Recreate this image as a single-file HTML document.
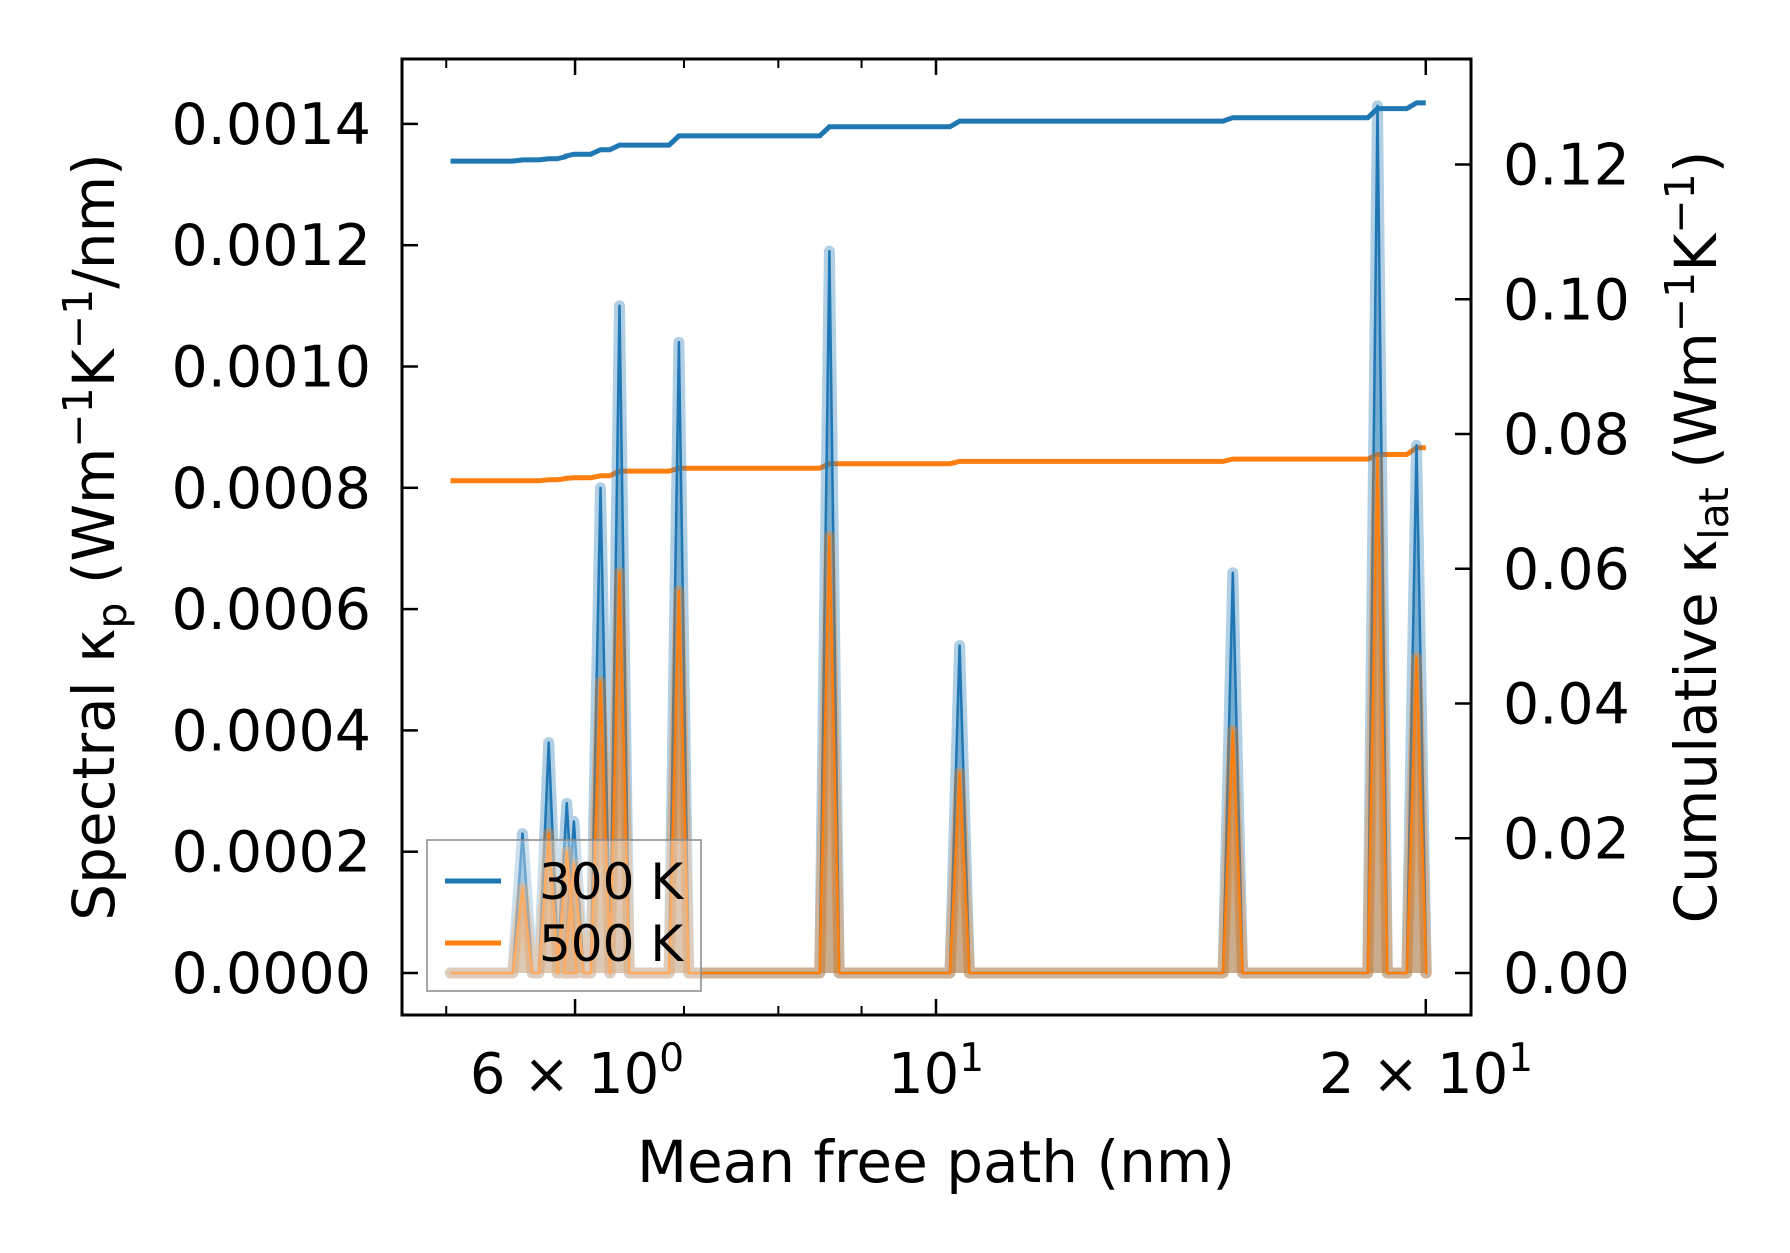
<!DOCTYPE html>
<html><head><meta charset="utf-8"><style>
html,body{margin:0;padding:0;background:#fff}
svg{display:block;font-family:"DejaVu Sans","Liberation Sans",sans-serif}
</style></head><body>
<svg id="chart" width="1790" height="1253" viewBox="0 0 1790 1253" xmlns="http://www.w3.org/2000/svg">
<g id="plot"></g>
<g id="axes"></g>
</svg>
<script>
// ---- data ----
const peakMfp = [5.57, 5.78, 5.93, 5.99, 6.22, 6.39, 6.95, 8.60, 10.34, 15.22, 18.68, 19.74];
const peak300 = [0.00023, 0.00038, 0.00028, 0.00025, 0.00080, 0.00110, 0.00104, 0.00119, 0.00054, 0.00066, 0.00143, 0.00087];
const peak500 = [0.00014, 0.00023, 0.00020, 0.00018, 0.00048, 0.00066, 0.00063, 0.00072, 0.00033, 0.00040, 0.00085, 0.00052];
const cum300 = [0.12068, 0.12085, 0.12119, 0.12153, 0.1222, 0.12288, 0.12424, 0.12559, 0.12644, 0.12695, 0.1283, 0.12915];
const cum500 = [0.07305, 0.0732, 0.0734, 0.0735, 0.0738, 0.0745, 0.07492, 0.07559, 0.07593, 0.07627, 0.07695, 0.07797];
const cumStart300 = 0.12051, cumStart500 = 0.07305;
const mfpMin = 5.03, mfpMax = 20.0;
const leftTicks = [0, 0.0002, 0.0004, 0.0006, 0.0008, 0.0010, 0.0012, 0.0014];
const leftTickLabels = ["0.0000","0.0002","0.0004","0.0006","0.0008","0.0010","0.0012","0.0014"];
const rightTicks = [0, 0.02, 0.04, 0.06, 0.08, 0.10, 0.12];
const rightTickLabels = ["0.00","0.02","0.04","0.06","0.08","0.10","0.12"];
const xMajor = [6, 10, 20];
const xMinor = [5, 7, 8, 9];

// ---- axes functions ----
const L=402,R=1471,T=59,B=1015;
const X = v => 936 + 1627*Math.log10(v/10);
const YL = v => 973 - v*(121.3/0.0002);
const YR = v => 973 - v*((973-164.5)/0.12);
const NS="http://www.w3.org/2000/svg";
function mk(tag, attrs, parent){const e=document.createElementNS(NS,tag);for(const k in attrs)e.setAttribute(k,attrs[k]);parent.appendChild(e);return e;}
const plot=document.getElementById('plot'), axes=document.getElementById('axes');

const hw = 0.006;
function spectrumPts(vals){
  const pts=[[X(mfpMin),YL(0)]];
  peakMfp.forEach((m,i)=>{
    const lx=X(m)-hw*1627, rx=X(m)+hw*1627;
    pts.push([lx,YL(0)],[X(m),YL(vals[i])],[rx,YL(0)]);
  });
  pts.push([X(mfpMax),YL(0)]);
  return pts;
}
function drawSpectrum(vals,color,name){
  const pts=spectrumPts(vals);
  const d=pts.map((p,i)=>(i?'L':'M')+p[0].toFixed(1)+' '+p[1].toFixed(1)).join(' ');
  const f=mk('path',{d:d+' Z',fill:color,'fill-opacity':0.4,stroke:'none'},plot);
  
  
  const band=mk('path',{d:d,fill:'none',stroke:color,'stroke-opacity':0.35,'stroke-width':11,'stroke-linejoin':'round','stroke-linecap':'round'},plot);
  
  
  const ln=mk('path',{d:d,fill:'none',stroke:color,'stroke-width':2.5,'stroke-linejoin':'round'},plot);
  
  
}
function drawCum(vals,start,color,name){
  const pts=[[X(mfpMin),YR(start)]];
  let prev=start;
  peakMfp.forEach((m,i)=>{pts.push([X(m)-hw*1627,YR(prev)],[X(m),YR(vals[i])]);prev=vals[i];});
  pts.push([X(mfpMax),YR(prev)]);
  const d=pts.map((p,i)=>(i?'L':'M')+p[0].toFixed(1)+' '+p[1].toFixed(1)).join(' ');
  const ln=mk('path',{d:d,fill:'none',stroke:color,'stroke-width':5},plot);
  
  
}
drawCum(cum300,cumStart300,'#1f77b4','cumulative-300k');
drawCum(cum500,cumStart500,'#ff7f0e','cumulative-500k');
drawSpectrum(peak300,'#1f77b4','spectral-300k');
drawSpectrum(peak500,'#ff7f0e','spectral-500k');

const fr=mk('rect',{x:L,y:T,width:R-L,height:B-T,fill:'none',stroke:'#000','stroke-width':3},axes);



leftTicks.forEach((v,i)=>{
  const y=YL(v);
  mk('line',{x1:L,x2:L+16,y1:y,y2:y,stroke:'#000','stroke-width':2.5},axes);
  const t=mk('text',{x:371,y:y+20,'text-anchor':'end','font-size':57},axes);
  t.textContent=leftTickLabels[i];
  
  
});
rightTicks.forEach((v,i)=>{
  const y=YR(v);
  mk('line',{x1:R-16,x2:R,y1:y,y2:y,stroke:'#000','stroke-width':2.5},axes);
  const t=mk('text',{x:1503,y:y+20,'text-anchor':'start','font-size':57},axes);
  t.textContent=rightTickLabels[i];
  
  
});
xMajor.forEach(v=>{
  const x=X(v);
  mk('line',{x1:x,x2:x,y1:B,y2:B-16,stroke:'#000','stroke-width':2.5},axes);
  mk('line',{x1:x,x2:x,y1:T,y2:T+16,stroke:'#000','stroke-width':2.5},axes);
});
xMinor.forEach(v=>{
  const x=X(v);
  mk('line',{x1:x,x2:x,y1:B,y2:B-9,stroke:'#000','stroke-width':2},axes);
  mk('line',{x1:x,x2:x,y1:T,y2:T+9,stroke:'#000','stroke-width':2},axes);
});
</script>
<script>
const s=document.getElementById('chart');
s.insertAdjacentHTML('beforeend',`
<g font-size="56" text-anchor="middle">
<text x="577" y="1093">6 × 10<tspan dy="-22" font-size="39">0</tspan></text>
<text x="936" y="1093">10<tspan dy="-22" font-size="39">1</tspan></text>
<text x="1426" y="1093">2 × 10<tspan dy="-22" font-size="39">1</tspan></text>
</g>
<text x="936" y="1182" font-size="58" text-anchor="middle">Mean free path (nm)</text>
<text transform="translate(114,537) rotate(-90)" font-size="58" text-anchor="middle">Spectral κ<tspan dy="12" font-size="41">p</tspan><tspan dy="-12"> (Wm</tspan><tspan dy="-22" font-size="41">−1</tspan><tspan dy="22">K</tspan><tspan dy="-22" font-size="41">−1</tspan><tspan dy="22">/nm)</tspan></text>
<text transform="translate(1716,537) rotate(-90)" font-size="58" text-anchor="middle">Cumulative κ<tspan dy="12" font-size="41">lat</tspan><tspan dy="-12"> (Wm</tspan><tspan dy="-22" font-size="41">−1</tspan><tspan dy="22">K</tspan><tspan dy="-22" font-size="41">−1</tspan><tspan dy="22">)</tspan></text>
<g>
<rect x="427" y="840" width="274" height="151" fill="#fff" fill-opacity="0.35" stroke="#888" stroke-width="1.5"/>
<line x1="445" x2="501" y1="881" y2="881" stroke="#1f77b4" stroke-width="5"/>
<text x="539" y="899" font-size="50">300 K</text>
<line x1="445" x2="501" y1="943" y2="943" stroke="#ff7f0e" stroke-width="5"/>
<text x="539" y="961" font-size="50">500 K</text>
</g>`);
</script>
</body></html>
